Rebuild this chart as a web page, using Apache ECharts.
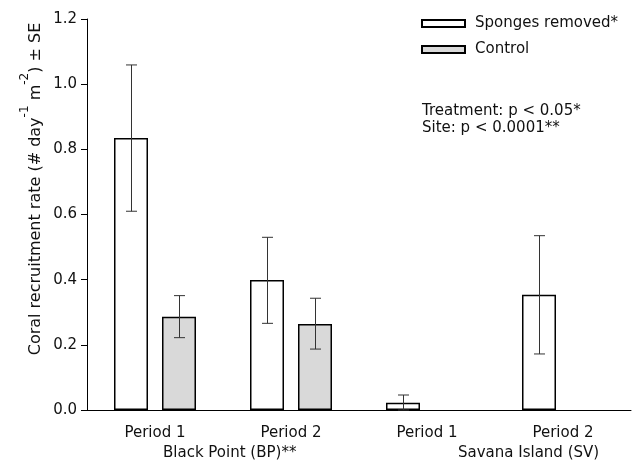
<!DOCTYPE html>
<html>
<head>
<meta charset="utf-8">
<script src="https://cdn.jsdelivr.net/npm/echarts@6/dist/echarts.min.js"></script>
<style>html,body{margin:0;padding:0;background:#fff;}#c{width:638px;height:464px;}</style>
</head>
<body>
<div id="c"></div>
<script>
var categories = ['Period 1', 'Period 2', 'Period 1 ', 'Period 2 '];
var removedMean = [0.835, 0.399, 0.022, 0.354];
var removedLow = [0.610, 0.266, 0.000, 0.172];
var removedHigh = [1.059, 0.530, 0.046, 0.535];
var controlMean = [0.286, 0.264, 0, 0];
var controlLow = [0.222, 0.187, 0, 0];
var controlHigh = [0.351, 0.343, 0, 0];
var yTicks = [0, 0.2, 0.4, 0.6, 0.8, 1.0, 1.2];
var seriesNames = ['Sponges removed*', 'Control'];
var siteLabels = ['Black Point (BP)**', 'Savana Island (SV)'];
var statLines = ['Treatment: p < 0.05*', 'Site: p < 0.0001**'];

var FONT = '"DejaVu Sans", Verdana, sans-serif';
var FS = 15;
var TXT = '#111';
var BAR_W = 34, BAR_GAP = 14;
var OFFSET = (BAR_W + BAR_GAP) / 2;

function barData(vals) {
  return vals.map(function (v) {
    return v === 0 ? {value: v, itemStyle: {borderWidth: 0}} : v;
  });
}
function errData(low, high, mean) {
  var out = [];
  for (var i = 0; i < low.length; i++) {
    if (mean[i] > 0) out.push([i, low[i], high[i]]);
  }
  return out;
}
function errSeries(data, dx) {
  return {
    type: 'custom',
    data: data,
    encode: {x: 0, y: [1, 2]},
    z: 5,
    silent: true,
    renderItem: function (params, api) {
      var i = api.value(0);
      var lo = api.coord([i, api.value(1)]);
      var hi = api.coord([i, api.value(2)]);
      var x = Math.round(lo[0] + dx) + 0.5;
      var cap = 5.5;
      var st = {stroke: '#333', lineWidth: 1, fill: null};
      return {
        type: 'group',
        children: [
          {type: 'line', shape: {x1: x, y1: lo[1], x2: x, y2: hi[1]}, style: st},
          {type: 'line', shape: {x1: x - cap, y1: hi[1], x2: x + cap, y2: hi[1]}, style: st},
          {type: 'line', shape: {x1: x - cap, y1: lo[1], x2: x + cap, y2: lo[1]}, style: st}
        ]
      };
    }
  };
}

var chart = echarts.init(document.getElementById('c'), null, {renderer: 'canvas'});
chart.setOption({
  backgroundColor: '#fff',
  animation: false,
  textStyle: {fontFamily: FONT},
  grid: {left: 87, right: 7, top: 19, bottom: 54},
  legend: {
    data: seriesNames,
    orient: 'vertical',
    left: 421, top: 16,
    padding: 0,
    itemWidth: 43, itemHeight: 7, itemGap: 11,
    icon: 'rect',
    textStyle: {fontFamily: FONT, fontSize: FS, color: TXT, padding: [0, 0, 0, 5]}
  },
  xAxis: {
    type: 'category',
    data: categories,
    axisLine: {lineStyle: {color: '#000', width: 1}},
    axisTick: {alignWithLabel: true, length: 5, lineStyle: {color: '#000'}},
    axisLabel: {
      fontFamily: FONT, fontSize: FS, color: TXT, margin: 16,
      formatter: function (v) { return v.trim(); }
    }
  },
  yAxis: {
    type: 'value',
    min: yTicks[0], max: yTicks[yTicks.length - 1], interval: 0.2,
    axisLine: {show: true, lineStyle: {color: '#000', width: 1}},
    axisTick: {show: true, length: 6, lineStyle: {color: '#000'}},
    splitLine: {show: false},
    axisLabel: {
      fontFamily: FONT, fontSize: FS, color: TXT, margin: 10,
      formatter: function (v) { return v.toFixed(1); }
    }
  },
  series: [
    {
      name: seriesNames[0], type: 'bar', data: barData(removedMean),
      barWidth: BAR_W, barGap: (BAR_GAP / BAR_W * 100) + '%',
      itemStyle: {color: '#ffffff', borderColor: '#000', borderWidth: 1.5}
    },
    {
      name: seriesNames[1], type: 'bar', data: barData(controlMean),
      barWidth: BAR_W,
      itemStyle: {color: '#d9d9d9', borderColor: '#000', borderWidth: 1.5}
    },
    errSeries(errData(removedLow, removedHigh, removedMean), -OFFSET),
    errSeries(errData(controlLow, controlHigh, controlMean), OFFSET)
  ],
  graphic: [
    {
      type: 'text', x: 31, y: 189, rotation: Math.PI / 2,
      style: {
        text: '{n|Coral recruitment rate (# day}{s|-1}{n| m}{s|-2}{n|) ± SE}',
        align: 'center', verticalAlign: 'middle',
        rich: {
          n: {fontFamily: FONT, fontSize: 16, fill: TXT, lineHeight: 25, verticalAlign: 'bottom'},
          s: {fontFamily: FONT, fontSize: 12, fill: TXT, lineHeight: 25, verticalAlign: 'top'}
        }
      }
    },
    {type: 'text', left: 163, top: 446, style: {text: siteLabels[0], font: FS + 'px ' + FONT, fill: TXT}},
    {type: 'text', left: 458, top: 446, style: {text: siteLabels[1], font: FS + 'px ' + FONT, fill: TXT}},
    {type: 'text', left: 422, top: 103, style: {text: statLines.join('\n'), font: FS + 'px ' + FONT, fill: TXT, lineHeight: 17}}
  ]
});
</script>
</body>
</html>
